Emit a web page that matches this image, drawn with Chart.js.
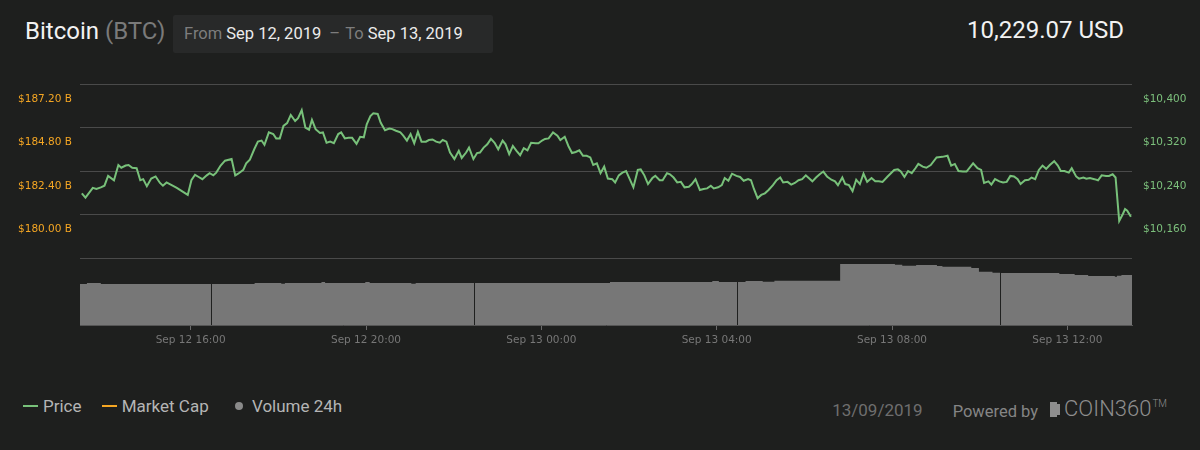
<!DOCTYPE html>
<html>
<head>
<meta charset="utf-8">
<script src="https://cdn.jsdelivr.net/npm/chart.js@4.4.1/dist/chart.umd.min.js"></script>
<style>
  html, body { margin: 0; padding: 0; background: #1e1f1e; }
  body { width: 1200px; height: 450px; position: relative; overflow: hidden; font-family: Roboto, sans-serif; }
  .title { position: absolute; left: 25px; top: 16px; font-size: 24px; line-height: 30px; color: #f2f2f2; }
  .title .sym { color: #7a7a7a; }
  .range { position: absolute; left: 173px; top: 15px; width: 320px; height: 38px; background: #282929; border-radius: 2px;
           font-size: 16.5px; line-height: 38px; color: #ececec; white-space: nowrap; }
  .range .lbl { color: #7d7d7d; }
  .price { position: absolute; right: 76px; top: 15px; font-size: 24px; line-height: 30px; color: #f2f2f2; }
  .chartbox { position: absolute; left: 0; top: 0; width: 1200px; height: 360px; }
  .legend { position: absolute; left: 23px; top: 392px; font-size: 17px; line-height: 24px; color: #b5b5b5; white-space: nowrap; }
  .legend span { display: inline-block; vertical-align: middle; }
  .dash { width: 15px; height: 2px; margin-right: 5px; }
  .dot { width: 8px; height: 8px; border-radius: 50%; background: #8a8a8a; margin-right: 9px; }
  .footer { position: absolute; right: 33px; top: 392px; font-size: 17px; line-height: 24px; color: #6e6e6e; white-space: nowrap; }
  .footer .pw { color: #858585; margin-left: 30px; font-size: 16.5px; position: relative; top: 1px; }
  .logo { color: #8e8e8e; font-size: 22px; font-weight: 300; margin-left: 12px; }
  .logo .ico { display: inline-block; width: 7px; height: 15px; background: #8e8e8e; margin-right: 7px; vertical-align: -1px; box-shadow: 5px 0 0 -2px #8e8e8e; }
  .logo sup { font-size: 10px; vertical-align: 9px; margin-left: 1px; }
</style>
</head>
<body>
<div class="title">Bitcoin <span class="sym">(BTC)</span></div>
<div class="range"><span class="lbl" style="margin-left:11px">From</span> Sep 12, 2019 <span class="lbl" style="margin-left:4px">–</span> <span class="lbl" style="margin-left:1px">To</span> Sep 13, 2019</div>
<div class="price">10,229.07 USD</div>
<div class="chartbox"><canvas id="btcChart"></canvas></div>
<div class="legend">
  <span class="dash" style="background:#78c17a"></span><span style="margin-right:16px">Price</span>
  <span class="dash" style="background:#f5a623"></span><span style="margin-right:22px">Market Cap</span>
  <span class="dot"></span><span>Volume 24h</span>
</div>
<div class="footer">13/09/2019<span class="pw">Powered by</span><span class="logo"><span class="ico"></span>COIN360<sup>TM</sup></span></div>

<script>
// minutes since Sep 12 2019 00:00
const priceMinutes = [
  811, 816, 826, 831, 837, 842, 847, 855, 861, 865, 871, 875, 880, 886, 891, 895, 900, 906, 912, 918,
  922, 927, 934, 941, 956, 961, 966, 971, 976, 982, 986, 991, 995, 1001, 1007, 1016, 1021, 1025, 1032, 1036,
  1041, 1047, 1052, 1057, 1061, 1067, 1073, 1077, 1082, 1087, 1092, 1097, 1103, 1107, 1112, 1117, 1122, 1126, 1131, 1137,
  1141, 1146, 1151, 1156, 1162, 1166, 1171, 1176, 1181, 1187, 1192, 1197, 1201, 1206, 1210, 1216, 1220, 1226, 1232, 1236,
  1241, 1247, 1251, 1256, 1261, 1266, 1271, 1276, 1282, 1286, 1291, 1296, 1301, 1305, 1310, 1315, 1321, 1327, 1331, 1337,
  1341, 1347, 1352, 1356, 1361, 1366, 1371, 1376, 1381, 1387, 1391, 1396, 1401, 1406, 1411, 1416, 1421, 1426, 1432, 1436,
  1441, 1445, 1450, 1456, 1462, 1466, 1472, 1477, 1482, 1487, 1492, 1497, 1502, 1507, 1511, 1516, 1521, 1526, 1531, 1537,
  1541, 1546, 1551, 1556, 1561, 1566, 1572, 1576, 1581, 1586, 1592, 1596, 1602, 1606, 1612, 1616, 1621, 1626, 1631, 1636,
  1642, 1646, 1651, 1657, 1662, 1667, 1672, 1676, 1682, 1687, 1691, 1696, 1701, 1707, 1712, 1717, 1723, 1727, 1731, 1736,
  1741, 1746, 1751, 1757, 1762, 1767, 1771, 1777, 1782, 1787, 1792, 1797, 1802, 1806, 1811, 1816, 1821, 1826, 1831, 1837,
  1842, 1846, 1852, 1856, 1861, 1866, 1871, 1876, 1881, 1886, 1892, 1897, 1902, 1907, 1914, 1923, 1928, 1932, 1937, 1942,
  1947, 1952, 1956, 1962, 1967, 1973, 1981, 1989, 1996, 2001, 2006, 2011, 2017, 2022, 2031, 2037, 2042, 2046, 2052, 2056,
  2061, 2067, 2072, 2077, 2082, 2087, 2092, 2096, 2102, 2107, 2111, 2116, 2121, 2126, 2131, 2136, 2142, 2147, 2151, 2156,
  2162, 2166, 2172, 2176, 2182, 2186, 2191, 2197, 2202, 2207, 2213, 2217, 2222, 2226, 2231, 2236, 2239, 2242, 2247
];
const priceValues = [
  10199, 10191, 10209, 10207, 10210, 10213, 10231, 10223, 10251, 10246, 10250, 10251, 10246, 10245, 10223, 10225, 10212, 10226, 10230, 10218,
  10213, 10219, 10214, 10209, 10196, 10223, 10233, 10229, 10225, 10232, 10236, 10232, 10237, 10250, 10259, 10262, 10232, 10235, 10242, 10254,
  10261, 10280, 10294, 10296, 10288, 10311, 10308, 10300, 10300, 10323, 10328, 10343, 10332, 10337, 10352, 10320, 10316, 10334, 10317, 10310,
  10311, 10292, 10294, 10291, 10308, 10311, 10300, 10301, 10301, 10290, 10303, 10302, 10326, 10341, 10346, 10345, 10329, 10315, 10318, 10317,
  10314, 10311, 10305, 10296, 10308, 10291, 10312, 10294, 10294, 10297, 10298, 10294, 10292, 10297, 10294, 10274, 10262, 10277, 10264, 10274,
  10283, 10262, 10273, 10274, 10283, 10289, 10299, 10292, 10280, 10296, 10289, 10271, 10286, 10277, 10269, 10282, 10278, 10292, 10291, 10291,
  10296, 10299, 10300, 10311, 10305, 10297, 10303, 10286, 10273, 10275, 10278, 10268, 10268, 10265, 10251, 10254, 10236, 10248, 10226, 10225,
  10219, 10232, 10237, 10240, 10225, 10210, 10242, 10243, 10232, 10216, 10227, 10231, 10223, 10223, 10236, 10234, 10228, 10219, 10220, 10210,
  10211, 10216, 10225, 10205, 10207, 10208, 10213, 10208, 10210, 10214, 10227, 10222, 10235, 10231, 10229, 10222, 10225, 10223, 10207, 10190,
  10196, 10199, 10205, 10214, 10223, 10228, 10219, 10220, 10215, 10218, 10223, 10225, 10232, 10227, 10221, 10228, 10234, 10239, 10230, 10224,
  10221, 10214, 10228, 10216, 10214, 10203, 10224, 10216, 10235, 10220, 10227, 10221, 10221, 10220, 10230, 10242, 10243, 10239, 10229, 10240,
  10236, 10245, 10253, 10248, 10246, 10251, 10265, 10266, 10268, 10250, 10253, 10240, 10239, 10239, 10254, 10245, 10242, 10218, 10221, 10215,
  10225, 10221, 10219, 10220, 10231, 10230, 10225, 10216, 10223, 10224, 10228, 10225, 10242, 10250, 10244, 10251, 10258, 10250, 10240, 10240,
  10237, 10245, 10230, 10226, 10228, 10226, 10227, 10225, 10223, 10232, 10231, 10231, 10234, 10228, 10148, 10161, 10170, 10167, 10156
];

// 24h volume (billion USD), step levels; null = break in the series
const volumeMinutes = [
  808.5, 818, 837, 987.8, 988.4, 989, 1047.5, 1084, 1089, 1139, 1144, 1199, 1205, 1262, 1268, 1348, 1348.6, 1349.2,
  1534, 1674, 1683, 1708, 1708.6, 1709.2, 1719.5, 1743, 1759, 1849, 1924, 1934, 1953, 1981.5, 1989, 2028.5, 2039,
  2057.5, 2068, 2068.6, 2069.2, 2149, 2170, 2188.5, 2225, 2228, 2234, 2248.5
];
const volumeValues = [
  15.13, 15.5, 15.13, 15.13, null, 15.13, 15.5, 15.2, 15.5, 15.87, 15.5, 15.87, 15.5, 15.2, 15.5, 15.5, null, 15.5,
  15.87, 16.24, 15.87, 15.87, null, 15.87, 16.24, 15.95, 16.35, 22.52, 22.26, 21.9, 22.15, 21.78, 21.52, 21.04, 19.68,
  19.31, 19.31, null, 19.2, 18.83, 18.46, 18.09, 17.83, 18.2, 18.46, 18.46
];

const timeTicks = [960, 1200, 1440, 1680, 1920, 2160];
const priceTicks = [10080, 10160, 10240, 10320, 10400];
const capTicks = [180.0, 182.4, 184.8, 187.2];

const tickFont = { family: '"DejaVu Sans", Verdana, sans-serif', size: 10.5 };

function timeLabel(m) {
    const day = m >= 1440 ? 13 : 12;
    const hh = Math.floor((m % 1440) / 60);
    return 'Sep ' + day + ' ' + String(hh).padStart(2, '0') + ':00';
}

const ctx = document.getElementById('btcChart').getContext('2d');

new Chart(ctx, {
    type: 'line',
    data: {
        datasets: [
            {
                label: 'Price',
                data: priceMinutes.map((m, i) => ({ x: m, y: priceValues[i] })),
                yAxisID: 'y',
                borderColor: '#78c17a',
                borderWidth: 2,
                pointRadius: 0,
                fill: false,
                order: 0
            },
            {
                label: 'Volume 24h',
                data: volumeMinutes.map((m, i) => ({ x: m, y: volumeValues[i] })),
                yAxisID: 'vol',
                stepped: true,
                borderWidth: 0,
                borderColor: 'rgba(0,0,0,0)',
                backgroundColor: '#777777',
                pointRadius: 0,
                fill: 'origin',
                spanGaps: false,
                order: 1
            }
        ]
    },
    options: {
        responsive: true,
        maintainAspectRatio: false,
        animation: false,
        layout: { padding: { top: 84, left: 0, right: 0, bottom: 0 } },
        plugins: {
            legend: { display: false },
            tooltip: { enabled: false }
        },
        scales: {
            x: {
                type: 'linear',
                min: 808.5,
                max: 2248.5,
                afterBuildTicks: scale => { scale.ticks = timeTicks.map(v => ({ value: v })); },
                afterFit: scale => { scale.height = 35; },
                ticks: {
                    color: '#777',
                    font: tickFont,
                    padding: 4,
                    maxRotation: 0,
                    autoSkip: false,
                    callback: v => timeLabel(v)
                },
                grid: { drawOnChartArea: false, drawTicks: true, tickLength: 5, color: '#6a6a6a' },
                border: { display: true, color: '#555' }
            },
            cap: {
                type: 'linear',
                position: 'left',
                min: 173.903,
                max: 187.2,
                afterBuildTicks: scale => { scale.ticks = capTicks.map(v => ({ value: v })); },
                afterFit: scale => { scale.width = 80; },
                ticks: {
                    color: '#f5a623',
                    font: tickFont,
                    padding: 8,
                    labelOffset: 15,
                    callback: v => '$' + v.toFixed(2) + ' B'
                },
                grid: { display: false, drawTicks: false },
                border: { display: false }
            },
            y: {
                type: 'linear',
                position: 'right',
                min: 9956.8,
                max: 10400,
                afterBuildTicks: scale => { scale.ticks = priceTicks.map(v => ({ value: v })); },
                afterFit: scale => { scale.width = 68; },
                ticks: {
                    color: '#7cc07c',
                    font: tickFont,
                    padding: 11,
                    labelOffset: 15,
                    callback: v => v === 10080 ? '' : '$' + v.toLocaleString('en-US')
                },
                grid: { color: '#4a4a4a', lineWidth: 1, drawTicks: false },
                border: { display: false }
            },
            vol: {
                type: 'linear',
                display: false,
                min: 0,
                max: 89
            }
        }
    }
});
</script>
</body>
</html>
